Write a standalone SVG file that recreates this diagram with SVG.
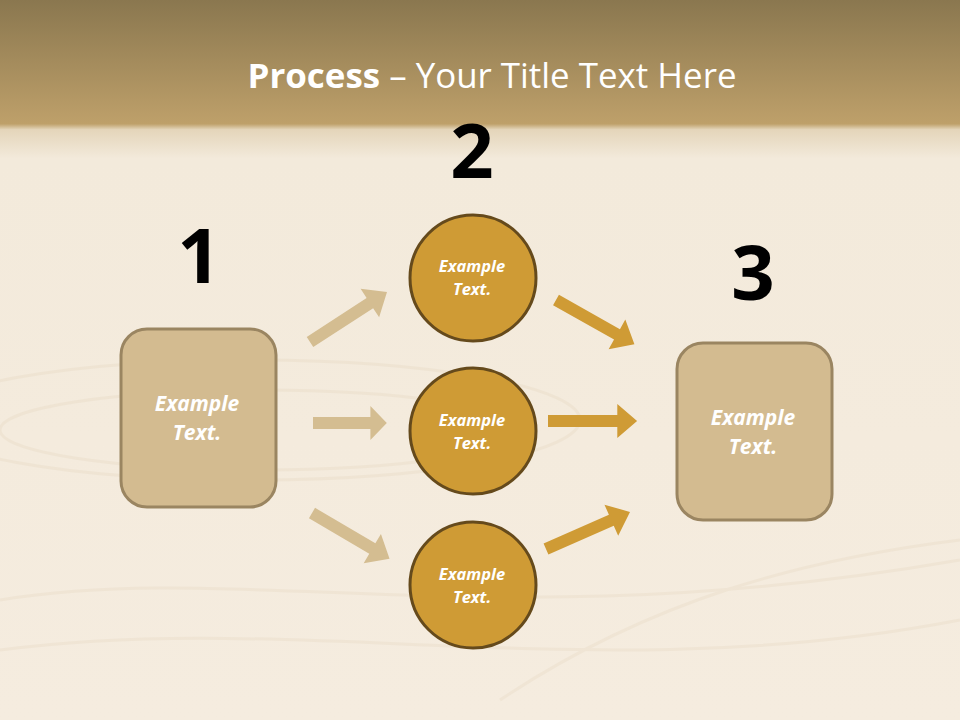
<svg xmlns="http://www.w3.org/2000/svg" width="960" height="720" viewBox="0 0 960 720">
<defs>
<linearGradient id="bg" gradientUnits="userSpaceOnUse" x1="0" y1="0" x2="0" y2="720">
<stop offset="0" stop-color="#8a774f"/>
<stop offset="0.172" stop-color="#bea06a"/>
<stop offset="0.18" stop-color="#e4d5ba"/>
<stop offset="0.22" stop-color="#f3eadb"/>
<stop offset="1" stop-color="#f5ecdf"/>
</linearGradient>
<path id="arr" d="M0,-6 L70,-6 L70,-17 L90,0 L70,17 L70,6 L0,6 Z"/>
<style>
.box{fill:#d3bb90;stroke:#9a8561;stroke-width:3}
.circ{fill:#cf9b35;stroke:#654a1c;stroke-width:3}
.lbl{font-family:"Open Sans","Liberation Sans",sans-serif;font-weight:bold;font-style:italic;fill:#ffffff;text-anchor:middle}
.num{font-family:"Open Sans","Liberation Sans",sans-serif;font-weight:bold;fill:#000000;text-anchor:middle;font-size:76px}
.la{fill:#d4bd91}
.da{fill:#cf9b35}
</style>
</defs>
<rect x="0" y="0" width="960" height="720" fill="url(#bg)"/>
<g opacity="0.25" fill="none" stroke="#e2d2b8" stroke-width="3">
<ellipse cx="250" cy="420" rx="330" ry="60"/>
<ellipse cx="260" cy="430" rx="260" ry="40"/>
<path d="M0,600 C250,560 500,640 960,560"/>
<path d="M0,650 C300,610 600,690 960,620"/>
<path d="M500,700 C650,600 800,560 960,540"/>
</g>
<text x="492" y="88" font-family="Open Sans, Liberation Sans, sans-serif" font-size="34" fill="#ffffff" text-anchor="middle" textLength="489" lengthAdjust="spacingAndGlyphs"><tspan font-weight="bold">Process</tspan> – Your Title Text Here</text>
<g id="connectors">
<use href="#arr" class="la" transform="translate(310,342) rotate(-33) scale(1.02,1)"/>
<use href="#arr" class="la" transform="translate(313,423) scale(0.82,1)"/>
<use href="#arr" class="la" transform="translate(312,513) rotate(30.5) scale(1.0,1)"/>
<use href="#arr" class="da" transform="translate(556,300) rotate(29.4) scale(1.0,1)"/>
<use href="#arr" class="da" transform="translate(548,421) scale(0.99,1)"/>
<use href="#arr" class="da" transform="translate(546,549) rotate(-23.8) scale(1.02,1)"/>
</g>
<g id="node1">
<text class="num" x="199" y="283">1</text>
<rect class="box" x="121" y="329" width="155" height="178" rx="26"/>
<text class="lbl" x="197" y="411" font-size="21">Example</text>
<text class="lbl" x="197" y="440" font-size="21">Text.</text>
</g>
<g id="node2a">
<text class="num" x="472" y="178">2</text>
<circle class="circ" cx="473" cy="278" r="63"/>
<text class="lbl" x="472" y="272" font-size="16.5">Example</text>
<text class="lbl" x="472" y="295" font-size="16.5">Text.</text>
</g>
<g id="node2b">
<circle class="circ" cx="473" cy="431" r="63"/>
<text class="lbl" x="472" y="426" font-size="16.5">Example</text>
<text class="lbl" x="472" y="449" font-size="16.5">Text.</text>
</g>
<g id="node2c">
<circle class="circ" cx="473" cy="585" r="63"/>
<text class="lbl" x="472" y="580" font-size="16.5">Example</text>
<text class="lbl" x="472" y="603" font-size="16.5">Text.</text>
</g>
<g id="node3">
<text class="num" x="753" y="300">3</text>
<rect class="box" x="677" y="343" width="155" height="177" rx="26"/>
<text class="lbl" x="753" y="425" font-size="21">Example</text>
<text class="lbl" x="753" y="454" font-size="21">Text.</text>
</g>
</svg>
